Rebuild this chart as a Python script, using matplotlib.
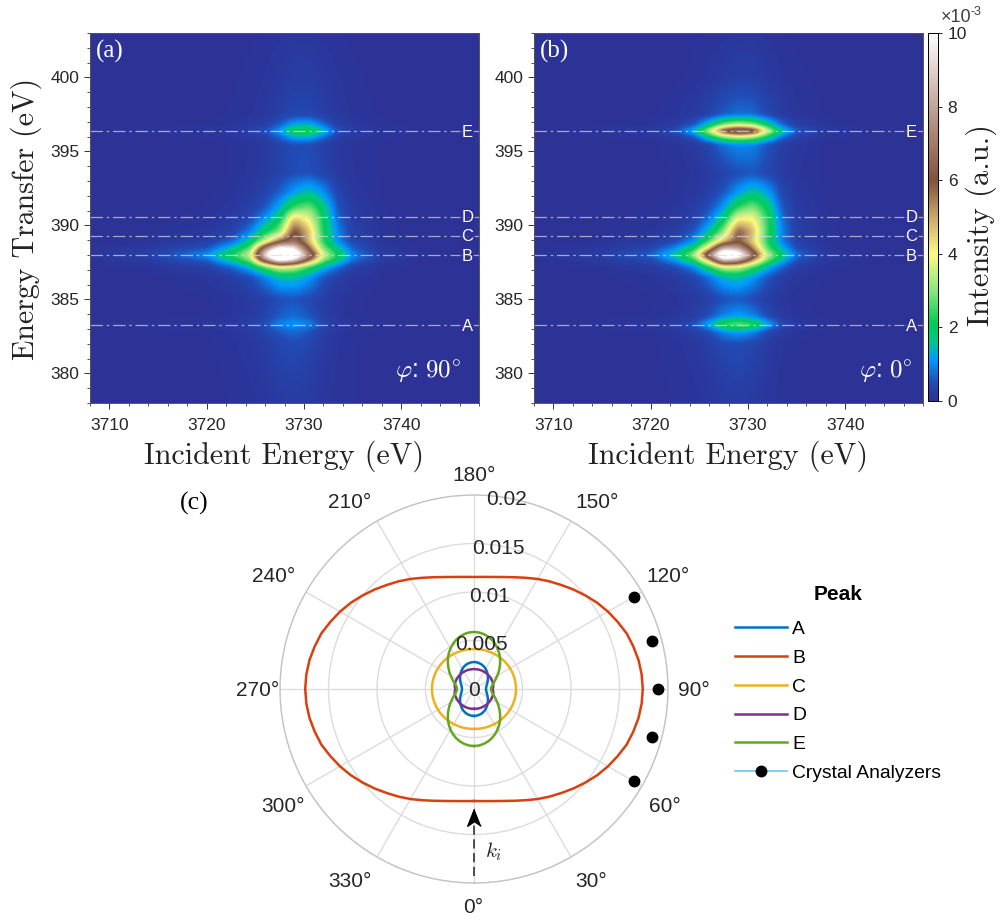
from matplotlib.colors import LinearSegmentedColormap
from matplotlib.lines import Line2D
from matplotlib.ticker import MultipleLocator
import matplotlib.pyplot as plt
import numpy as np

W, H = 1003, 921
plt.rcParams["font.family"] = ["Liberation Sans", "DejaVu Sans"]
plt.rcParams["mathtext.fontset"] = "cm"

# heat map values (x 1e-3), rows go from low to high energy transfer
incident = [3708, 3714, 3720, 3722.5, 3724.5, 3726, 3727.5, 3729, 3730.5, 3732, 3733.5, 3735, 3738, 3742, 3748]
transfer = [378, 380, 382, 382.8, 383.3, 383.8, 385, 386.5, 387.2, 387.7, 388, 388.4, 388.9,
            389.6, 390.4, 391.2, 392.2, 393.5, 395.5, 396, 396.4, 396.8, 397.5, 400, 403]

intensity_a = [
    [.05, .05, .06, .08, .1, .13, .2, .25, .2, .13, .1, .08, .06, .05, .05],
    [.05, .05, .06, .09, .12, .18, .3, .35, .28, .17, .1, .08, .06, .05, .05],
    [.05, .05, .07, .1, .15, .25, .4, .5, .4, .22, .12, .08, .06, .05, .05],
    [.05, .06, .08, .12, .2, .35, .6, .75, .55, .28, .14, .09, .06, .05, .05],
    [.08, .1, .14, .2, .32, .55, 1.0, 1.15, 1.0, .45, .22, .14, .09, .07, .06],
    [.05, .06, .08, .12, .2, .35, .65, .8, .6, .3, .14, .09, .06, .05, .05],
    [.05, .05, .07, .1, .18, .3, .5, .55, .45, .25, .13, .09, .06, .05, .05],
    [.05, .06, .12, .25, .5, .95, 1.5, 1.55, 1.15, .6, .28, .14, .07, .05, .05],
    [.06, .1, .28, .7, 1.4, 2.6, 3.8, 3.5, 2.4, 1.4, .8, .3, .1, .06, .05],
    [.08, .22, .7, 1.8, 3.0, 7.5, 11, 9.5, 6, 3.1, 1.9, .85, .2, .07, .05],
    [.1, .3, 1.1, 2.3, 3.6, 9.5, 14, 12, 7.5, 3.8, 2.2, 1.0, .28, .1, .06],
    [.07, .2, .6, 1.5, 2.8, 7.5, 11, 10, 6, 3.0, 1.7, .7, .18, .07, .05],
    [.05, .1, .25, .7, 1.7, 3.6, 5.8, 6.8, 4.8, 2.3, 1, .4, .12, .05, .05],
    [.05, .07, .14, .32, .9, 2, 2.9, 6.3, 4.7, 2.2, .95, .33, .1, .05, .05],
    [.05, .06, .1, .2, .5, 1.15, 2.0, 4.8, 3.9, 2.1, .75, .25, .09, .05, .05],
    [.05, .05, .08, .14, .3, .6, 1.3, 2.5, 2.9, 1.8, .55, .2, .08, .05, .05],
    [.05, .05, .07, .1, .2, .35, .7, 1.2, 1.6, 1.1, .38, .16, .07, .05, .05],
    [.05, .05, .06, .08, .13, .2, .34, .5, .55, .38, .2, .12, .07, .05, .05],
    [.05, .05, .06, .08, .12, .18, .34, .5, .5, .3, .16, .11, .07, .05, .05],
    [.05, .06, .08, .11, .18, .28, .7, 1.35, 1.4, .8, .28, .16, .09, .06, .05],
    [.08, .1, .14, .22, .35, .6, 1.2, 2.4, 2.5, 1.6, .55, .3, .14, .09, .07],
    [.05, .06, .08, .11, .18, .26, .65, 1.3, 1.4, .8, .28, .16, .09, .06, .05],
    [.05, .05, .06, .08, .11, .16, .28, .42, .42, .28, .16, .11, .07, .05, .05],
    [.05, .05, .06, .07, .09, .12, .18, .25, .25, .18, .12, .09, .06, .05, .05],
    [.05, .05, .05, .06, .07, .08, .1, .13, .13, .1, .08, .07, .06, .05, .05],
]

intensity_b = [
    [.05, .05, .06, .08, .1, .13, .2, .25, .2, .13, .1, .08, .06, .05, .05],
    [.05, .05, .06, .09, .12, .18, .3, .35, .28, .17, .1, .08, .06, .05, .05],
    [.05, .05, .07, .1, .15, .28, .45, .5, .4, .22, .12, .08, .06, .05, .05],
    [.05, .06, .08, .13, .25, .5, 1.0, 1.2, .95, .45, .18, .1, .06, .05, .05],
    [.08, .1, .16, .28, .55, 1.35, 2.6, 3.0, 2.6, 1.4, .5, .2, .1, .07, .06],
    [.05, .06, .08, .13, .25, .55, 1.0, 1.25, 1.0, .5, .18, .1, .06, .05, .05],
    [.05, .05, .07, .1, .18, .3, .5, .6, .45, .25, .13, .09, .06, .05, .05],
    [.05, .06, .1, .18, .4, .8, 1.4, 1.55, 1.15, .6, .25, .13, .07, .05, .05],
    [.05, .08, .18, .45, 1.0, 2.2, 3.6, 3.6, 2.5, 1.4, .7, .25, .09, .05, .05],
    [.07, .16, .45, 1.2, 2.4, 5, 9.5, 8.5, 5.5, 2.9, 1.5, .55, .15, .07, .05],
    [.09, .22, .7, 1.7, 3.3, 7.5, 12.5, 11.5, 7, 3.6, 2.0, .85, .2, .08, .06],
    [.06, .14, .4, 1.05, 2.2, 4.7, 9, 8.3, 5.5, 2.7, 1.4, .5, .14, .06, .05],
    [.05, .08, .18, .45, 1.1, 2.6, 4.8, 6.0, 4.5, 2.3, .9, .32, .1, .05, .05],
    [.05, .06, .11, .22, .6, 1.5, 3, 6, 4.8, 2.4, .95, .3, .09, .05, .05],
    [.05, .06, .09, .15, .35, .85, 1.9, 4.2, 4.1, 2.4, .8, .25, .08, .05, .05],
    [.05, .05, .07, .12, .24, .5, 1.15, 2.4, 3, 2, .6, .2, .07, .05, .05],
    [.05, .05, .06, .09, .16, .3, .6, 1.15, 1.7, 1.25, .42, .16, .07, .05, .05],
    [.05, .05, .06, .08, .12, .2, .34, .5, .58, .42, .22, .12, .07, .05, .05],
    [.05, .06, .07, .1, .18, .4, .8, 1.0, .95, .55, .25, .14, .07, .05, .05],
    [.05, .07, .1, .2, .6, 1.7, 3.0, 3.6, 3.3, 2.0, .8, .3, .1, .06, .05],
    [.08, .12, .2, .5, 1.5, 3.6, 6.8, 8, 7.2, 4, 1.7, .7, .22, .1, .07],
    [.05, .07, .1, .2, .6, 1.6, 3.0, 3.6, 3.2, 1.9, .75, .28, .1, .06, .05],
    [.05, .05, .07, .1, .18, .35, .65, .8, .75, .45, .22, .13, .07, .05, .05],
    [.05, .05, .06, .07, .09, .13, .2, .28, .28, .18, .12, .09, .06, .05, .05],
    [.05, .05, .05, .06, .07, .08, .1, .13, .13, .1, .08, .07, .06, .05, .05],
]

peak_names = ["A", "B", "C", "D", "E"]
peak_energy = [383.3, 388.0, 389.3, 390.6, 396.4]
peak_label_y = [383.2, 387.9, 389.25, 390.55, 396.3]

# polar curves, first quadrant every 5 deg starting from 0
angles = list(range(0, 95, 5))
peak_a = [.00278, .00277, .00273, .00268, .00260, .00251, .00240, .00227, .00214, .00201,
          .00187, .00175, .00162, .00152, .00142, .00134, .00129, .00125, .00124]
peak_b = [.01155, .01160, .01173, .01195, .01226, .01265, .01310, .01355, .01400, .01450,
          .01500, .01550, .01595, .01635, .01675, .01700, .01722, .01735, .01740]
peak_c = [.00412, .00412, .00413, .00414, .00415, .00416, .00418, .00420, .00422, .00423,
          .00425, .00427, .00428, .00430, .00431, .00432, .00433, .00433, .00433]
peak_d = [.00205, .00205, .00205, .00206, .00206, .00206, .00206, .00206, .00206, .00206,
          .00206, .00206, .00206, .00205, .00205, .00204, .00202, .00198, .00192]
peak_e = [.00588, .00585, .00575, .00560, .00539, .00514, .00485, .00452, .00418, .00381,
          .00345, .00311, .00278, .00248, .00224, .00203, .00188, .00178, .00175]
analyzer_angles = [60, 75, 90, 105, 120]
analyzer_r = [.0190, .0190, .0190, .0190, .0190]
theta_ticks = list(range(0, 360, 30))
r_ticks = [0, 0.005, 0.01, 0.015, 0.02]
r_tick_labels = ["0", "0.005", "0.01", "0.015", "0.02"]
peak_colors = ["#0072BD", "#D9400F", "#EDB120", "#7E2F8E", "#66A61E"]

cmap = LinearSegmentedColormap.from_list("rixs", [
    (0.0, (0.18, 0.19, 0.58)), (0.05, (0.13, 0.30, 0.72)), (0.11, (0.0, 0.60, 1.0)),
    (0.16, (0.0, 0.78, 0.55)), (0.21, (0.0, 0.80, 0.35)), (0.30, (0.55, 0.90, 0.50)),
    (0.40, (1.0, 0.98, 0.50)), (0.50, (0.78, 0.66, 0.42)), (0.60, (0.50, 0.32, 0.24)),
    (0.80, (0.76, 0.64, 0.60)), (1.0, (1.0, 1.0, 1.0))])


def rect(left, top, right, bottom):
    return [left / W, 1 - bottom / H, (right - left) / W, (bottom - top) / H]


def smooth(a, sigma):
    # light blur so the read-off grid does not show its facets
    k = np.exp(-0.5 * (np.arange(-15, 16) / sigma) ** 2)
    k = k / k.sum()
    return np.convolve(np.pad(a, 15, mode="edge"), k, mode="valid")


def fine_map(table):
    table = np.array(table, dtype=float)
    xf = np.linspace(incident[0], incident[-1], 400)
    yf = np.linspace(transfer[0], transfer[-1], 380)
    z = np.array([np.interp(xf, incident, row) for row in table])
    z = np.array([np.interp(yf, transfer, col) for col in z.T]).T
    z = np.array([smooth(row, 3) for row in z])
    z = np.array([smooth(col, 2) for col in z.T]).T
    return z


def mirrored(values):
    # the lobes are the same in all four quadrants
    q1 = list(values)
    half = q1 + q1[-2::-1]
    return half + half[1:]


def draw_map(ax, table, phi, phi_x):
    im = ax.imshow(fine_map(table), origin="lower", aspect="auto", cmap=cmap, vmin=0, vmax=10,
                   extent=[incident[0], incident[-1], transfer[0], transfer[-1]])
    for name, e, ly in zip(peak_names, peak_energy, peak_label_y):
        ax.axhline(e, color="#dcd8ee", lw=0.9, ls=(0, (10, 3, 2, 3)), alpha=0.7)
        ax.text(3746.8, ly, name, color="white", fontsize=12, ha="center", va="center",
                bbox=dict(facecolor=cmap(0.0), edgecolor="none", pad=1.0, alpha=0.75))
    ax.set_xlim(3708, 3748)
    ax.set_ylim(378, 403)
    ax.set_xticks([3710, 3720, 3730, 3740])
    ax.set_yticks([380, 385, 390, 395, 400])
    ax.xaxis.set_minor_locator(MultipleLocator(2))
    ax.yaxis.set_minor_locator(MultipleLocator(1))
    ax.tick_params(which="major", length=4, width=0.7, labelsize=12.5, color="#333333", labelcolor="#262626")
    ax.tick_params(which="minor", length=2, width=0.6, color="#333333")
    ax.tick_params(axis="x", which="major", pad=7)
    for s in ax.spines.values():
        s.set_linewidth(0.7)
        s.set_color("#555555")
    ax.set_xlabel("Incident Energy (eV)", family="cmr10", fontsize=21.7, labelpad=5, color="#222222")
    ax.text(phi_x, 0.085, r"$\varphi$: $" + phi + r"^{\circ}$", transform=ax.transAxes,
            color="white", fontsize=18, ha="right", va="center")
    return im


fig = plt.figure(figsize=(W / 100, H / 100), dpi=100)

ax_a = fig.add_axes(rect(90, 33, 479, 403))
im = draw_map(ax_a, intensity_a, "90", 0.953)
ax_b = fig.add_axes(rect(534, 33, 923, 403))
draw_map(ax_b, intensity_b, "0", 0.972)
fig.text(26 / W, 1 - 219 / H, "Energy Transfer (eV)", family="cmr10", fontsize=21.5, rotation=90,
         ha="center", va="center", color="#222222")

for ax, tag in zip([ax_a, ax_b], ["(a)", "(b)"]):
    ax.text(0.015, 0.95, tag, transform=ax.transAxes, color="white", fontsize=18,
            family="Liberation Serif", va="center")

cax = fig.add_axes(rect(928, 33, 938, 401))
cb = fig.colorbar(im, cax=cax, ticks=[0, 2, 4, 6, 8, 10])
cb.ax.tick_params(labelsize=12.5, length=3, width=0.6, pad=4, labelcolor="#262626")
cb.outline.set_linewidth(0.7)
fig.text(941 / W, 1 - 17 / H, "×10", fontsize=13, color="#404040", va="center")
fig.text(971 / W, 1 - 12 / H, "-3", fontsize=9, color="#404040", va="center")
fig.text(981 / W, 1 - 225 / H, "Intensity (a.u.)", family="cmr10", fontsize=22, rotation=90,
         ha="center", va="center", color="#222222")
fig.text(194 / W, 1 - 503 / H, "(c)", family="Liberation Serif", fontsize=18.5, ha="center", va="center")

ax_c = fig.add_axes(rect(280, 495, 668, 883), projection="polar")
ax_c.set_theta_zero_location("S")
ax_c.set_theta_direction(1)
ax_c.set_rlim(0, 0.02)
ax_c.set_thetagrids(theta_ticks, [""] * len(theta_ticks))
ax_c.set_rticks(r_ticks)
ax_c.set_yticklabels([])
ax_c.grid(color="#dcdcdc", lw=1.0)
ax_c.spines["polar"].set_color("#c4c4c4")
ax_c.spines["polar"].set_linewidth(1.0)

full_angles = np.deg2rad(angles + [a + 90 for a in angles[1:]] + [a + 180 for a in angles[1:]] + [a + 270 for a in angles[1:]])
handles = []
for name, values, c in zip(peak_names, [peak_a, peak_b, peak_c, peak_d, peak_e], peak_colors):
    line, = ax_c.plot(full_angles, mirrored(values), color=c, lw=1.8, label=name)
    handles.append(line)
ax_c.plot(np.deg2rad(analyzer_angles), analyzer_r, ls="none", marker="o", ms=7.5, color="black")
handles.append(Line2D([], [], color="#6EC5F0", lw=1.2, marker="o", ms=7.5, mfc="black", mec="black",
                      label="Crystal Analyzers"))

ax_c.plot([0, 0], [0.0193, 0.0137], color="#222222", lw=1.1, ls=(0, (6, 3)))
ax_c.plot([0], [0.0134], ls="none", color="black", ms=15,
          marker=[(0, 1), (-0.65, -0.65), (0, -0.2), (0.65, -0.65)])

# tick labels sit where the original figure has them
theta_xy = [(473, 907), (591, 881), (665, 806), (694, 690), (668, 577), (597, 502),
            (474, 475), (350, 502), (274, 577), (258, 690), (283, 806), (350, 881)]
for d, (px, py) in zip(theta_ticks, theta_xy):
    fig.text(px / W, 1 - py / H, f"{d}°", fontsize=15, color="#262626", ha="center", va="center")
r_xy = [(474, 690), (481, 644), (490, 596), (498.5, 548), (507, 499)]
for lab, (px, py) in zip(r_tick_labels, r_xy):
    fig.text(px / W, 1 - py / H, lab, fontsize=15, color="#262626", ha="center", va="center")
fig.text(494 / W, 1 - 852 / H, "$k_i$", fontsize=15, color="#222222", ha="center", va="center")

leg = ax_c.legend(handles=handles, title="Peak", loc="upper left", bbox_to_anchor=(735 / W, 1 - 585 / H),
                  bbox_transform=fig.transFigure, frameon=False, fontsize=13.9, handlelength=2.7,
                  handletextpad=0.25, labelspacing=0.58, borderpad=0, borderaxespad=0,
                  title_fontproperties={"weight": "bold", "size": 15})
leg._legend_box.sep = 12

fig.savefig("out.png", dpi=100)
